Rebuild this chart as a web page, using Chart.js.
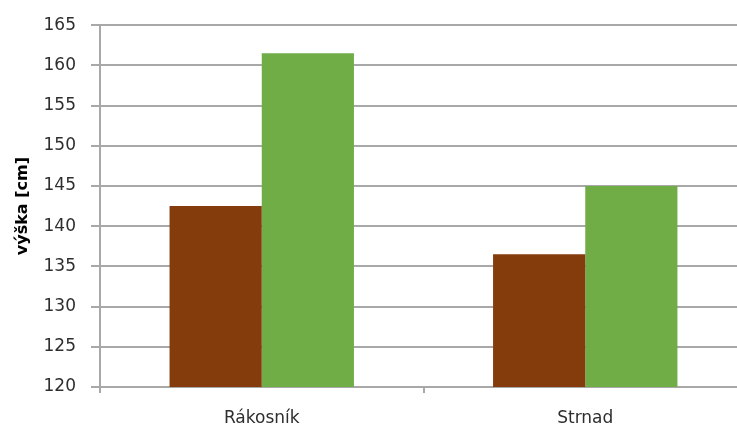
<!DOCTYPE html>
<html>
<head>
<meta charset="utf-8">
<script src="https://cdn.jsdelivr.net/npm/chart.js@4/dist/chart.umd.min.js"></script>
<style>
  html, body { margin: 0; padding: 0; background: #fff; overflow: hidden; }
  #wrap { position: relative; width: 747px; height: 428px; }
</style>
</head>
<body>
<div id="wrap"><canvas id="vyska"></canvas></div>
<script>
// birds and their heights in cm
const categories = ['Rákosník', 'Strnad'];
const seriesBrown = [142.5, 136.5];
const seriesGreen = [161.5, 145];
const yTicks = [120, 125, 130, 135, 140, 145, 150, 155, 160, 165];

const gridGray = '#a8a8a8';
const textColor = '#2e2e2e';
const fontFamily = '"DejaVu Sans", sans-serif';

new Chart(document.getElementById('vyska'), {
    type: 'bar',
    data: {
        labels: categories,
        datasets: [{
            label: 'a',
            data: seriesBrown,
            backgroundColor: '#843c0c',
            borderWidth: 0
        }, {
            label: 'b',
            data: seriesGreen,
            backgroundColor: '#70ad47',
            borderWidth: 0
        }]
    },
    options: {
        responsive: true,
        maintainAspectRatio: false,
        animation: false,
        layout: { padding: { top: 25, right: 0, bottom: 0, left: 0 } },
        plugins: {
            legend: { display: false },
            tooltip: { enabled: false }
        },
        datasets: {
            bar: { categoryPercentage: 0.57, barPercentage: 1.0 }
        },
        scales: {
            x: {
                grid: {
                    display: true,
                    drawOnChartArea: false,
                    drawTicks: true,
                    tickLength: 6,
                    color: gridGray,
                    lineWidth: 2
                },
                border: { display: true, color: gridGray, width: 2 },
                ticks: {
                    color: textColor,
                    padding: 15,
                    font: { family: fontFamily, size: 17 }
                },
                afterFit: (scale) => { scale.height = 41; }
            },
            y: {
                min: 120,
                max: 165,
                afterBuildTicks: (scale) => {
                    scale.ticks = yTicks.map(v => ({ value: v }));
                },
                grid: {
                    color: gridGray,
                    lineWidth: 2,
                    drawTicks: true,
                    tickLength: 9
                },
                border: { display: true, color: gridGray, width: 2 },
                ticks: {
                    color: textColor,
                    padding: 15,
                    font: { family: fontFamily, size: 17 }
                },
                title: {
                    display: true,
                    text: 'výška [cm]',
                    color: '#000',
                    padding: { top: 13, bottom: 0 },
                    font: { family: fontFamily, size: 16, weight: 'bold' }
                },
                afterFit: (scale) => { scale.width = 100; }
            }
        }
    }
});
</script>
</body>
</html>
